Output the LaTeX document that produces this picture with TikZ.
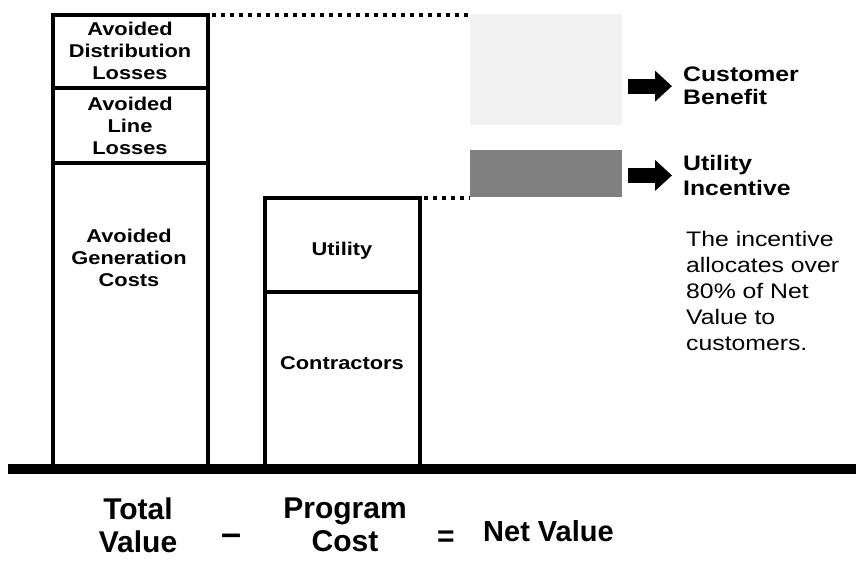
\documentclass[tikz,border=0pt]{standalone}
\usepackage{fontspec}
\setmainfont{Liberation Sans}
\newfontfamily\wideface[FakeStretch=1.18]{Liberation Sans}
\usetikzlibrary{arrows.meta}
\begin{document}
\begin{tikzpicture}[x=1pt,y=-1pt,
  bar/.style={line width=4.5pt, line join=miter},
  boxtext/.style={font=\wideface\bfseries\fontsize{18.5}{22}\selectfont, align=center, inner sep=0pt},
  labeltext/.style={font=\wideface\bfseries\fontsize{21}{23}\selectfont, align=left, inner sep=0pt, anchor=north west},
  paratext/.style={font=\wideface\fontsize{21}{26}\selectfont, align=left, inner sep=0pt, anchor=north west},
  bottomtext/.style={font=\bfseries\fontsize{30}{33}\selectfont, align=center, inner sep=0pt},
  dotline/.style={line width=4pt, dash pattern=on 4pt off 5pt},
  blockarrow/.style={line width=15pt, -{Triangle[length=17pt,width=30pt]}},
  region/.style={inner sep=0pt, outer sep=0pt, anchor=north west},
]
\useasboundingbox (0,0) rectangle (856,560);

% total value bar
\draw[bar] (53,464) |- (208,15) -- (208,464);
\draw[bar] (53,88) -- (208,88);
\draw[bar] (53,163) -- (208,163);
% program cost bar
\draw[bar] (265,464) |- (420,198) -- (420,464);
\draw[bar] (265,292) -- (420,292);
% ground
\draw[line width=10pt] (8,469) -- (856,469);

% shaded regions
\node[region, fill=black!5, minimum width=152pt, minimum height=111pt] (cb) at (470,14) {};
\node[region, fill=black!50, minimum width=152pt, minimum height=47pt] (ui) at (470,150) {};

% dotted leaders
\coordinate (tvtop) at (212,15);
\coordinate (pctop) at (424,198);
\draw[dotline] (tvtop) -- (tvtop -| cb.west);
\draw[dotline] (pctop) -- (pctop -| ui.west);

% bar texts
\node[boxtext] (dist) at (130,51) {Avoided\\Distribution\\Losses};
\node[boxtext] (line) at (130,126) {Avoided\\Line\\Losses};
\node[boxtext] (gen) at (129,258) {Avoided\\Generation\\Costs};
\node[boxtext] (util) at (342,251) {Utility};
\node[boxtext] (contr) at (342,363) {Contractors};

% right labels
\node[labeltext] (cbt) at (683,67) {Customer\\Benefit};
\node[labeltext, font=\wideface\bfseries\fontsize{21}{25}\selectfont] (uit) at (683,155) {Utility\\Incentive};
\coordinate (cbs) at ([xshift=6pt]cb.east);
\coordinate (uis) at ([xshift=6pt]ui.east);
\draw[blockarrow] (cbs |- cbt.west) -- ([xshift=-11pt]cbt.west);
\draw[blockarrow] (uis |- uit.west) -- ([xshift=-11pt]uit.west);

\node[paratext] (para) at (686,231) {The incentive\\allocates over\\80\% of Net\\Value to\\customers.};

% equation
\node[bottomtext, anchor=north] (tv) at (138,498) {Total\\Value};
\node[bottomtext, anchor=north] (pc) at (345,498) {Program\\Cost};
\node[bottomtext, font=\bfseries\fontsize{36}{36}\selectfont, anchor=base] (minus) at (232,545) {–};
\node[bottomtext, anchor=base] (eq) at (446,546) {=};
\node[bottomtext, font=\bfseries\fontsize{29}{34}\selectfont, anchor=base west] (net) at (483,541) {Net Value};
\end{tikzpicture}
\end{document}
